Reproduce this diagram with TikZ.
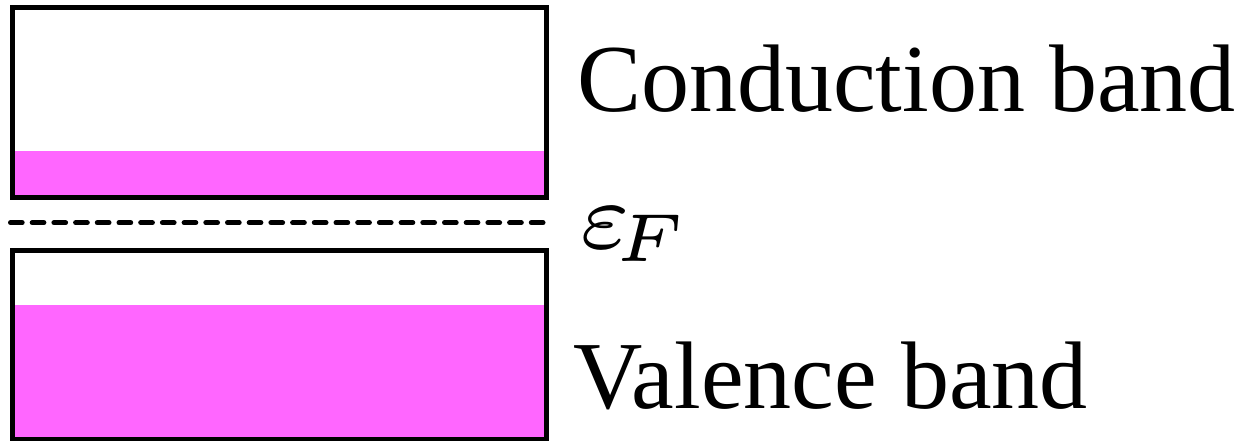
\documentclass[tikz,border=0pt]{standalone}
\usepackage{fontspec}
\usepackage{graphicx}
\setmainfont{Liberation Serif}
\definecolor{bandpink}{RGB}{255,102,255}
\begin{document}
\begin{tikzpicture}[x=1pt,y=-1pt,
  bandbox/.style={draw=black,line width=5pt},
  filled/.style={fill=bandpink},
  fermi/.style={line width=5pt,line cap=round,dash pattern=on 11.7pt off 10pt},
  label/.style={anchor=base west,inner sep=0pt,font=\fontsize{96}{110}\selectfont}]
\useasboundingbox (0,0) rectangle (1255,441);
% conduction band
\fill[filled] (12,151) rectangle (546.5,197.5);
\draw[bandbox] (12,7.5) rectangle (546.5,197.5);
% valence band
\fill[filled] (12,305) rectangle (546.5,439);
\draw[bandbox] (12,250) rectangle (546.5,439);
% Fermi level
\coordinate (fl) at (10.5,222.7);
\coordinate (fr) at (544.5,222.7);
\draw[fermi] (fl) -- (fr);
% labels
\node[label] (cb) at (577,112) {Conduction band};
\node[anchor=base west,inner sep=0pt] (ef) at (579,248) {\scalebox{13.6}{\fontsize{7}{8}\selectfont$\varepsilon_{\kern-1.2pt F}$}};
\node[label] (vb) at (573,408) {Valence band};
\end{tikzpicture}
\end{document}
